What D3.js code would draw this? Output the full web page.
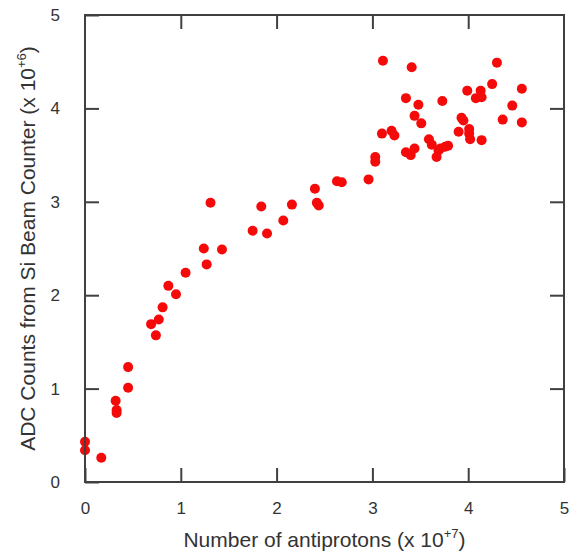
<!DOCTYPE html>
<html>
<head>
<meta charset="utf-8">
<script src="https://cdn.jsdelivr.net/npm/d3@7"></script>
<style>
  body { margin: 0; background: #fff; }
  svg text { font-family: "Liberation Sans", Arial, sans-serif; fill: #333; }
</style>
</head>
<body>
<script>
// antiprotons (x 10^7)
const antiprotons = [
  0.00, 0.00, 0.17, 0.32, 0.33, 0.33, 0.45, 0.45,
  0.69, 0.74, 0.77, 0.81, 0.87, 0.95, 1.05, 1.24, 1.27, 1.31, 1.43,
  1.75, 1.84, 1.90, 2.07, 2.16, 2.40, 2.42, 2.44, 2.63, 2.68,
  2.96, 3.03, 3.03, 3.10, 3.11, 3.20, 3.23, 3.35, 3.35, 3.40, 3.41,
  3.44, 3.44, 3.48, 3.51, 3.59, 3.62, 3.67, 3.69, 3.71, 3.73, 3.76,
  3.79, 3.90, 3.93, 3.95, 3.99, 4.01, 4.01, 4.02, 4.08, 4.13, 4.14,
  4.14, 4.25, 4.30, 4.36, 4.46, 4.56, 4.56
];
// ADC counts (x 10^6)
const adcCounts = [
  0.43, 0.34, 0.26, 0.87, 0.77, 0.74, 1.23, 1.01,
  1.69, 1.57, 1.74, 1.87, 2.10, 2.01, 2.24, 2.50, 2.33, 2.99, 2.49,
  2.69, 2.95, 2.66, 2.80, 2.97, 3.14, 2.99, 2.96, 3.22, 3.21,
  3.24, 3.48, 3.43, 3.73, 4.51, 3.76, 3.71, 4.11, 3.53, 3.50, 4.44,
  3.92, 3.57, 4.04, 3.84, 3.67, 3.61, 3.48, 3.55, 3.57, 4.08, 3.59,
  3.60, 3.75, 3.90, 3.87, 4.19, 3.78, 3.73, 3.67, 4.11, 4.19, 4.12,
  3.66, 4.26, 4.49, 3.88, 4.03, 4.21, 3.85
];
const xTicks = [0, 1, 2, 3, 4, 5];
const yTicks = [0, 1, 2, 3, 4, 5];

const width = 581, height = 554;
const margin = { top: 15, right: 17, bottom: 72, left: 85 };

const svg = d3.select('body').append('svg')
  .attr('width', width)
  .attr('height', height);

const x = d3.scaleLinear().domain([0, 5]).range([margin.left, width - margin.right]);
const y = d3.scaleLinear().domain([0, 5]).range([height - margin.bottom, margin.top]);

const axisColor = '#404040';
const tickLen = 14;

// points first so the frame sits on top
svg.append('g')
  .selectAll('circle')
  .data(antiprotons)
  .join('circle')
  .attr('cx', (d) => x(d))
  .attr('cy', (d, i) => y(adcCounts[i]))
  .attr('r', 5)
  .attr('fill', '#f50a0a');

// frame
svg.append('rect')
  .attr('x', x(0)).attr('y', y(5))
  .attr('width', x(5) - x(0)).attr('height', y(0) - y(5))
  .attr('fill', 'none')
  .attr('stroke', axisColor)
  .attr('stroke-width', 2);

// inward ticks on all four sides
function styleAxis(g) {
  g.select('.domain').remove();
  g.selectAll('.tick line').attr('stroke', axisColor).attr('stroke-width', 2);
  g.selectAll('.tick text').attr('fill', '#333').style('font-size', '17px');
}

svg.append('g')
  .attr('transform', `translate(0,${y(0)})`)
  .call(d3.axisBottom(x).tickValues(xTicks).tickFormat(d3.format('d'))
    .tickSizeInner(-tickLen).tickPadding(20))
  .call(styleAxis);

svg.append('g')
  .attr('transform', `translate(0,${y(5)})`)
  .call(d3.axisTop(x).tickValues(xTicks.slice(1, -1)).tickFormat('')
    .tickSizeInner(-tickLen))
  .call(styleAxis);

svg.append('g')
  .attr('transform', `translate(${x(0)},0)`)
  .call(d3.axisLeft(y).tickValues(yTicks).tickFormat(d3.format('d'))
    .tickSizeInner(-tickLen).tickPadding(25))
  .call(styleAxis);

svg.append('g')
  .attr('transform', `translate(${x(5)},0)`)
  .call(d3.axisRight(y).tickValues(yTicks.slice(1, -1)).tickFormat('')
    .tickSizeInner(-tickLen))
  .call(styleAxis);

// axis titles
const xTitle = svg.append('text')
  .attr('x', (x(0) + x(5)) / 2)
  .attr('y', 547)
  .attr('text-anchor', 'middle')
  .style('font-size', '21px');
xTitle.append('tspan').text('Number of antiprotons (x 10');
xTitle.append('tspan').attr('dy', -9).style('font-size', '13px').text('+7');
xTitle.append('tspan').attr('dy', 9).text(')');

const yTitle = svg.append('text')
  .attr('transform', `translate(35,${(y(0) + y(5)) / 2}) rotate(-90)`)
  .attr('text-anchor', 'middle')
  .style('font-size', '21px');
yTitle.append('tspan').text('ADC Counts from Si Beam Counter (x 10');
yTitle.append('tspan').attr('dy', -9).style('font-size', '13px').text('+6');
yTitle.append('tspan').attr('dy', 9).text(')');
</script>
</body>
</html>
